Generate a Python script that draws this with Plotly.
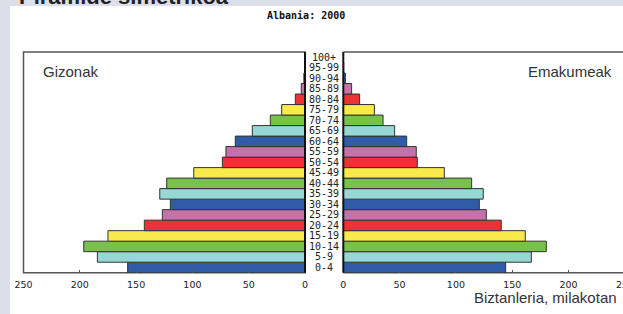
import plotly.graph_objects as go

W, H = 623, 314

ages = ["0-4", "5-9", "10-14", "15-19", "20-24", "25-29", "30-34", "35-39",
        "40-44", "45-49", "50-54", "55-59", "60-64", "65-69", "70-74", "75-79",
        "80-84", "85-89", "90-94", "95-99", "100+"]
males = [157.5, 184.4, 196.5, 175.0, 142.7, 126.7, 119.6, 129.0, 122.8, 98.8,
         73.4, 70.2, 61.9, 46.8, 30.8, 20.7, 8.6, 3.3, 1.0, 0.3, 0.1]
females = [144.2, 167.0, 180.3, 161.6, 140.3, 127.0, 120.8, 124.3, 114.0, 89.7,
           65.7, 64.8, 56.3, 45.6, 35.3, 27.6, 14.5, 7.4, 1.8, 0.4, 0.1]
palette = ["#2f5ba8", "#97d8d5", "#78c14a", "#f9ea4b", "#ee3134", "#c472ab"]
colors = [palette[i % len(palette)] for i in range(len(ages))]
tick_vals = [0, 50, 100, 150, 200, 250]

title_text = "Piramide simetrikoa"
subtitle_text = "Albania: 2000"
male_label = "Gizonak"
female_label = "Emakumeak"
axis_title = "Biztanleria, milakotan"


def px(x):
    return x / W


def py(y):
    return 1 - y / H


L0, L1 = 23.5, 305.0      # left panel (250 .. 0)
R0 = 343.3               # right panel zero
TOP, BOT = 52.0, 272.7
scale = (L1 - L0) / 250.0
right_max = (W - R0) / scale

fig = go.Figure()
fig.add_trace(go.Bar(x=males, y=ages, orientation="h", width=1,
                     marker=dict(color=colors, line=dict(color="#333333", width=1)),
                     xaxis="x", yaxis="y", showlegend=False, hoverinfo="x+y"))
fig.add_trace(go.Bar(x=females, y=ages, orientation="h", width=1,
                     marker=dict(color=colors, line=dict(color="#333333", width=1)),
                     xaxis="x2", yaxis="y2", showlegend=False, hoverinfo="x+y"))

tickfont = dict(family="DejaVu Sans", size=9.5, color="#222222")
fig.update_layout(
    width=W, height=H,
    autosize=False,
    margin=dict(l=0, r=0, t=0, b=0, pad=0, autoexpand=False),
    paper_bgcolor="#dcdeea",
    plot_bgcolor="rgba(0,0,0,0)",
    bargap=0,
    xaxis=dict(domain=[px(L0), px(L1)], range=[250, 0], tickvals=tick_vals,
               ticks="inside", ticklen=3, tickcolor="#555555", showgrid=False,
               zeroline=False, showline=False, tickfont=tickfont, anchor="y",
               ticklabelstandoff=5, fixedrange=True, automargin=False),
    xaxis2=dict(domain=[px(R0), 1], range=[0, right_max], tickvals=tick_vals,
                ticks="inside", ticklen=3, tickcolor="#555555", showgrid=False,
                zeroline=False, showline=False, tickfont=tickfont, anchor="y2",
                ticklabelstandoff=5, fixedrange=True, automargin=False),
    yaxis=dict(domain=[py(BOT), py(TOP)], type="category", categoryorder="array",
               categoryarray=ages, range=[-0.5, len(ages) - 0.5],
               showticklabels=False, showgrid=False, zeroline=False, ticks="",
               anchor="x", fixedrange=True, automargin=False),
    yaxis2=dict(domain=[py(BOT), py(TOP)], type="category", categoryorder="array",
                categoryarray=ages, range=[-0.5, len(ages) - 0.5],
                showticklabels=False, showgrid=False, zeroline=False, ticks="",
                anchor="x2", fixedrange=True, automargin=False),
)

shapes = [
    # white card
    dict(type="rect", xref="paper", yref="paper", x0=px(10), x1=1.01, y0=-0.01, y1=py(6),
         fillcolor="white", line=dict(width=0), layer="below"),
    # left panel frame
    dict(type="rect", xref="paper", yref="paper", x0=px(L0), x1=px(L1), y0=py(BOT), y1=py(TOP),
         line=dict(color="#555555", width=1.5), layer="below"),
    # right panel frame lines
    dict(type="line", xref="paper", yref="paper", x0=px(R0), x1=1, y0=py(TOP), y1=py(TOP),
         line=dict(color="#555555", width=1.5), layer="below"),
    dict(type="line", xref="paper", yref="paper", x0=px(R0), x1=1, y0=py(BOT), y1=py(BOT),
         line=dict(color="#555555", width=1.5), layer="below"),
    # zero lines
    dict(type="line", xref="paper", yref="paper", x0=px(L1), x1=px(L1), y0=py(BOT), y1=py(TOP),
         line=dict(color="#111111", width=2)),
    dict(type="line", xref="paper", yref="paper", x0=px(R0), x1=px(R0), y0=py(BOT), y1=py(TOP),
         line=dict(color="#111111", width=2)),
]
fig.update_layout(shapes=shapes)

ann = []
for a in ages:
    ann.append(dict(x=px((L1 + R0) / 2), xref="paper", y=a, yref="y", text=a,
                    showarrow=False, xanchor="center", yanchor="middle",
                    font=dict(family="DejaVu Sans Mono", size=10, color="#222222")))
ann += [
    dict(x=px(17), y=py(10.5), xref="paper", yref="paper", text=f"<b>{title_text}</b>",
         showarrow=False, xanchor="left", yanchor="bottom",
         font=dict(family="Liberation Sans", size=22, color="#222222")),
    dict(x=px(306), y=py(15.5), xref="paper", yref="paper", text=f"<b>{subtitle_text}</b>",
         showarrow=False, xanchor="center", yanchor="middle",
         font=dict(family="DejaVu Sans Mono", size=10, color="#111111")),
    dict(x=px(41), y=py(72), xref="paper", yref="paper", text=male_label,
         showarrow=False, xanchor="left", yanchor="middle",
         font=dict(family="Liberation Sans", size=15, color="#333333")),
    dict(x=px(614), y=py(72), xref="paper", yref="paper", text=female_label,
         showarrow=False, xanchor="right", yanchor="middle",
         font=dict(family="Liberation Sans", size=15, color="#333333")),
    dict(x=px(619), y=py(297), xref="paper", yref="paper", text=axis_title,
         showarrow=False, xanchor="right", yanchor="middle",
         font=dict(family="Liberation Sans", size=15, color="#333333")),
    dict(x=px(R0 + 250 * scale), xref="paper", y=py(284), yref="paper", text="250",
         showarrow=False, xanchor="center", yanchor="middle", font=tickfont),
]
fig.update_layout(annotations=ann)

fig.write_html(
    "out.html",
    config={"displayModeBar": False, "staticPlot": True},
    post_script="document.documentElement.style.margin='0';"
                "document.body.style.margin='0';document.body.style.padding='0';"
                "document.body.style.overflow='hidden';"
                "document.documentElement.style.overflow='hidden';"
                "var d=document.getElementById('{plot_id}');"
                "d.style.position='fixed';d.style.left='0px';d.style.top='0px';",
)
